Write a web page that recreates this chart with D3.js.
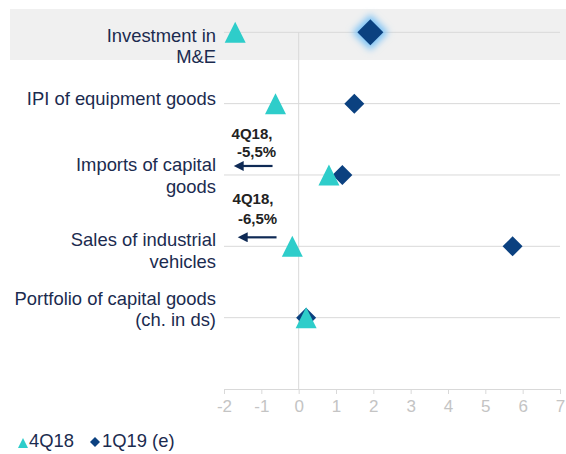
<!DOCTYPE html>
<html>
<head>
<meta charset="utf-8">
<script src="https://cdn.jsdelivr.net/npm/d3@7"></script>
<style>
  body { margin: 0; background: #fff; }
  svg { display: block; font-family: "Liberation Sans", Arial, sans-serif; }
</style>
</head>
<body>
<svg id="chart" width="566" height="454"></svg>
<script>
// categories (top to bottom), each label split into lines
const categories = [
  ["Investment in", "M&E"],
  ["IPI of equipment goods"],
  ["Imports of capital", "goods"],
  ["Sales of industrial", "vehicles"],
  ["Portfolio of capital goods", "(ch. in ds)"]
];
const q4_18 = [-1.7, -0.62, 0.81, -0.17, 0.2];
const q1_19 = [1.92, 1.49, 1.17, 5.73, 0.2];
const xTicks = [-2, -1, 0, 1, 2, 3, 4, 5, 6, 7];
const seriesNames = ["4Q18", "1Q19 (e)"];
// off-scale notes: row index, text lines
const noteRows = [2, 3];
const noteText = [["4Q18,", "-5,5%"], ["4Q18,", "-6,5%"]];

const teal = "#2ecdca", navy = "#0b4180", textCol = "#1b2b4f";

const svg = d3.select("#chart");

const defs = svg.append("defs");
const glow = defs.append("filter").attr("id", "glow")
  .attr("x", "-60%").attr("y", "-60%").attr("width", "220%").attr("height", "220%");
glow.append("feGaussianBlur").attr("stdDeviation", 3.5);

const x = d3.scaleLinear().domain([-2, 7]).range([224, 560]);
const y = d3.scaleLinear().domain([0, categories.length]).range([32.3, 389]);

// highlighted band for first row
svg.append("rect")
  .attr("x", 10).attr("y", 9).attr("width", 556).attr("height", 51)
  .attr("fill", "#f0f0f0");

// row gridlines
svg.selectAll(".grid")
  .data(categories)
  .enter().append("line")
  .attr("x1", x(-2)).attr("x2", x(7))
  .attr("y1", (d, i) => y(i)).attr("y2", (d, i) => y(i))
  .attr("stroke", "#d9d9d9").attr("stroke-width", 1);

// zero line
svg.append("line")
  .attr("x1", x(0)).attr("x2", x(0))
  .attr("y1", y(0)).attr("y2", y(categories.length))
  .attr("stroke", "#d9d9d9");

// x axis
const xAxis = d3.axisBottom(x).tickValues(xTicks).tickSize(5).tickPadding(6)
  .tickFormat(d3.format("d"));
const ax = svg.append("g")
  .attr("transform", `translate(0,${y(categories.length)})`)
  .call(xAxis);
ax.select(".domain").attr("stroke", "#d9d9d9");
ax.selectAll(".tick line").attr("stroke", "#d9d9d9");
ax.selectAll(".tick text")
  .attr("fill", "#c4c4c4")
  .style("font-size", "17px")
  .style("font-family", "Liberation Sans, Arial, sans-serif")
  .text(d => d < 0 ? "-" + Math.abs(d) : d);

// category labels (first-line baseline shift per row, layout only)
const labelShift = [9.5, 1.7, -3.6, 0, -13];
const labels = svg.selectAll(".lab")
  .data(categories)
  .enter().append("text")
  .attr("text-anchor", "end")
  .attr("fill", textCol)
  .style("font-size", "18.4px");
labels.each(function(d, i) {
  d3.select(this).selectAll("tspan")
    .data(d)
    .enter().append("tspan")
    .attr("x", 216)
    .attr("y", (t, j) => y(i) + labelShift[i] + j * 21.3)
    .text(t => t);
});

// markers
const tri = "M0,-10.5L10.5,10.5L-10.5,10.5Z";
const dia = s => `M0,${-s}L${s},0L0,${s}L${-s},0Z`;

// glow behind the first diamond
svg.append("path")
  .attr("d", dia(18))
  .attr("transform", `translate(${x(q1_19[0])},${y(0)})`)
  .attr("fill", "#7cc2f5")
  .attr("filter", "url(#glow)");

svg.selectAll(".dia")
  .data(q1_19)
  .enter().append("path")
  .attr("d", (d, i) => dia(i === 0 ? 13 : 10))
  .attr("transform", (d, i) => `translate(${x(d)},${y(i)})`)
  .attr("fill", navy);

svg.selectAll(".tri")
  .data(q4_18)
  .enter().append("path")
  .attr("d", tri)
  .attr("transform", (d, i) => `translate(${x(d)},${y(i)})`)
  .attr("fill", teal);

// off-scale notes with arrows
defs.append("marker")
  .attr("id", "arrow").attr("viewBox", "0 0 10 10")
  .attr("refX", 1).attr("refY", 5)
  .attr("markerWidth", 5.5).attr("markerHeight", 4.5)
  .attr("orient", "auto")
  .append("path").attr("d", "M0,0L10,5L0,10Z").attr("fill", "#0f2a55");

const noteTop = [-36, -42.7];
const noteGap = [18, 20.7];
noteRows.forEach((r, k) => {
  const yy = y(r);
  svg.append("line")
    .attr("x1", x(-0.7) + (k ? 4 : 0)).attr("x2", x(-1.5) + (k ? 4 : 0))
    .attr("y1", yy - 9).attr("y2", yy - 9)
    .attr("stroke", "#0f2a55").attr("stroke-width", 2.2)
    .attr("marker-end", "url(#arrow)");
  const t = svg.append("text")
    .attr("text-anchor", "middle")
    .attr("fill", "#222")
    .style("font-size", "15px").style("font-weight", "bold");
  noteText[k].forEach((s, j) => {
    t.append("tspan")
      .attr("x", j === 0 ? 252 + k : 256.5 + k)
      .attr("y", yy + noteTop[k] + j * noteGap[k])
      .text(s);
  });
});

// legend
const lg = svg.append("g").attr("transform", "translate(0,447)");
lg.append("path").attr("d", "M0,-5L5,5L-5,5Z")
  .attr("transform", "translate(23,-4)").attr("fill", teal);
lg.append("text").attr("x", 29).attr("y", 0).attr("fill", textCol)
  .style("font-size", "18.4px").text(seriesNames[0]);
lg.append("path").attr("d", dia(5))
  .attr("transform", "translate(95,-5)").attr("fill", navy);
lg.append("text").attr("x", 102).attr("y", 0).attr("fill", textCol)
  .style("font-size", "18.4px").text(seriesNames[1]);
</script>
</body>
</html>
